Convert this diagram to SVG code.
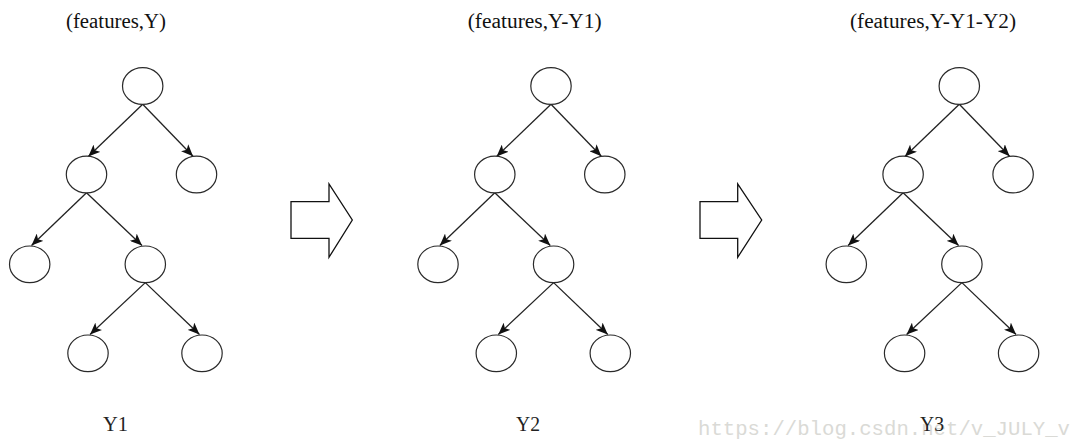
<svg xmlns="http://www.w3.org/2000/svg" width="1075" height="444" viewBox="0 0 1075 444">
<style>
.node ellipse{fill:#fff;stroke:#2a2a2a;stroke-width:1.2}
.edge line{stroke:#222;stroke-width:1.3;marker-end:url(#ah)}
.title{font-family:"Liberation Serif","DejaVu Serif",serif;font-size:20px;fill:#111}
.lab{font-family:"Liberation Serif","DejaVu Serif",serif;font-size:20px;fill:#222}
.bigarrow{fill:#fff;stroke:#111;stroke-width:1.3;stroke-linejoin:miter}
.wm{font-family:"Liberation Mono","DejaVu Sans Mono",monospace;font-size:20px;fill:#dadad6}
</style>
<defs>
<marker id="ah" markerUnits="userSpaceOnUse" markerWidth="13" markerHeight="10" refX="12" refY="5" orient="auto">
<path d="M0,0 L12,5 L0,10 L3,5 Z" fill="#111"/>
</marker>
</defs>
<rect width="1075" height="444" fill="#fff"/>

<text class="title" x="66" y="27.5" textLength="100" lengthAdjust="spacingAndGlyphs">(features,Y)</text>
<text class="title" x="467.7" y="27.5" textLength="134" lengthAdjust="spacingAndGlyphs">(features,Y-Y1)</text>
<text class="title" x="850" y="27.5" textLength="166" lengthAdjust="spacingAndGlyphs">(features,Y-Y1-Y2)</text>

<g id="connectors">
<g class="edge">
<line x1="142.7" y1="104.3" x2="88.3" y2="156.5"/>
<line x1="142.7" y1="104.3" x2="193" y2="156.3"/>
<line x1="86.5" y1="192.8" x2="31.5" y2="245.5"/>
<line x1="86.5" y1="192.8" x2="142" y2="245.5"/>
<line x1="145.3" y1="282.6" x2="90" y2="334.5"/>
<line x1="145.3" y1="282.6" x2="199.5" y2="334.5"/>
</g>
<g class="edge" transform="translate(408.3,0)">
<line x1="142.7" y1="104.3" x2="88.3" y2="156.5"/>
<line x1="142.7" y1="104.3" x2="193" y2="156.3"/>
<line x1="86.5" y1="192.8" x2="31.5" y2="245.5"/>
<line x1="86.5" y1="192.8" x2="142" y2="245.5"/>
<line x1="145.3" y1="282.6" x2="90" y2="334.5"/>
<line x1="145.3" y1="282.6" x2="199.5" y2="334.5"/>
</g>
<g class="edge" transform="translate(816.6,0)">
<line x1="142.7" y1="104.3" x2="88.3" y2="156.5"/>
<line x1="142.7" y1="104.3" x2="193" y2="156.3"/>
<line x1="86.5" y1="192.8" x2="31.5" y2="245.5"/>
<line x1="86.5" y1="192.8" x2="142" y2="245.5"/>
<line x1="145.3" y1="282.6" x2="90" y2="334.5"/>
<line x1="145.3" y1="282.6" x2="199.5" y2="334.5"/>
</g>
</g>

<g id="tree1">
<g id="t1-root" class="node"><ellipse cx="142.7" cy="86" rx="20.2" ry="18.3"/></g>
<g id="t1-l" class="node"><ellipse cx="86.5" cy="174.5" rx="20.2" ry="18.3"/></g>
<g id="t1-r" class="node"><ellipse cx="196.5" cy="174.5" rx="20.2" ry="18.3"/></g>
<g id="t1-ll" class="node"><ellipse cx="29.7" cy="264.3" rx="20.2" ry="18.3"/></g>
<g id="t1-lr" class="node"><ellipse cx="145.3" cy="264.3" rx="20.2" ry="18.3"/></g>
<g id="t1-lrl" class="node"><ellipse cx="88" cy="353.3" rx="20.2" ry="18.3"/></g>
<g id="t1-lrr" class="node"><ellipse cx="202" cy="353.3" rx="20.2" ry="18.3"/></g>
</g>
<g id="tree2" transform="translate(408.3,0)">
<g id="t2-root" class="node"><ellipse cx="142.7" cy="86" rx="20.2" ry="18.3"/></g>
<g id="t2-l" class="node"><ellipse cx="86.5" cy="174.5" rx="20.2" ry="18.3"/></g>
<g id="t2-r" class="node"><ellipse cx="196.5" cy="174.5" rx="20.2" ry="18.3"/></g>
<g id="t2-ll" class="node"><ellipse cx="29.7" cy="264.3" rx="20.2" ry="18.3"/></g>
<g id="t2-lr" class="node"><ellipse cx="145.3" cy="264.3" rx="20.2" ry="18.3"/></g>
<g id="t2-lrl" class="node"><ellipse cx="88" cy="353.3" rx="20.2" ry="18.3"/></g>
<g id="t2-lrr" class="node"><ellipse cx="202" cy="353.3" rx="20.2" ry="18.3"/></g>
</g>
<g id="tree3" transform="translate(816.6,0)">
<g id="t3-root" class="node"><ellipse cx="142.7" cy="86" rx="20.2" ry="18.3"/></g>
<g id="t3-l" class="node"><ellipse cx="86.5" cy="174.5" rx="20.2" ry="18.3"/></g>
<g id="t3-r" class="node"><ellipse cx="196.5" cy="174.5" rx="20.2" ry="18.3"/></g>
<g id="t3-ll" class="node"><ellipse cx="29.7" cy="264.3" rx="20.2" ry="18.3"/></g>
<g id="t3-lr" class="node"><ellipse cx="145.3" cy="264.3" rx="20.2" ry="18.3"/></g>
<g id="t3-lrl" class="node"><ellipse cx="88" cy="353.3" rx="20.2" ry="18.3"/></g>
<g id="t3-lrr" class="node"><ellipse cx="202" cy="353.3" rx="20.2" ry="18.3"/></g>
</g>

<g id="arrow1"><polygon class="bigarrow" points="291,201.7 329,201.7 329,184 352.3,220 329,257.3 329,238.3 291,238.3"/></g>
<g id="arrow2"><polygon class="bigarrow" points="700,201.7 737.7,201.7 737.7,184 761.7,220 737.7,257.3 737.7,238.3 700,238.3"/></g>

<text class="wm" x="698" y="435" textLength="372" lengthAdjust="spacingAndGlyphs">https://blog.csdn.net/v_JULY_v</text>

<text class="lab" x="103" y="430.5" textLength="25" lengthAdjust="spacingAndGlyphs">Y1</text>
<text class="lab" x="516" y="430.5" textLength="24" lengthAdjust="spacingAndGlyphs">Y2</text>
<text class="lab" x="920" y="430.5" textLength="24" lengthAdjust="spacingAndGlyphs">Y3</text>
</svg>
